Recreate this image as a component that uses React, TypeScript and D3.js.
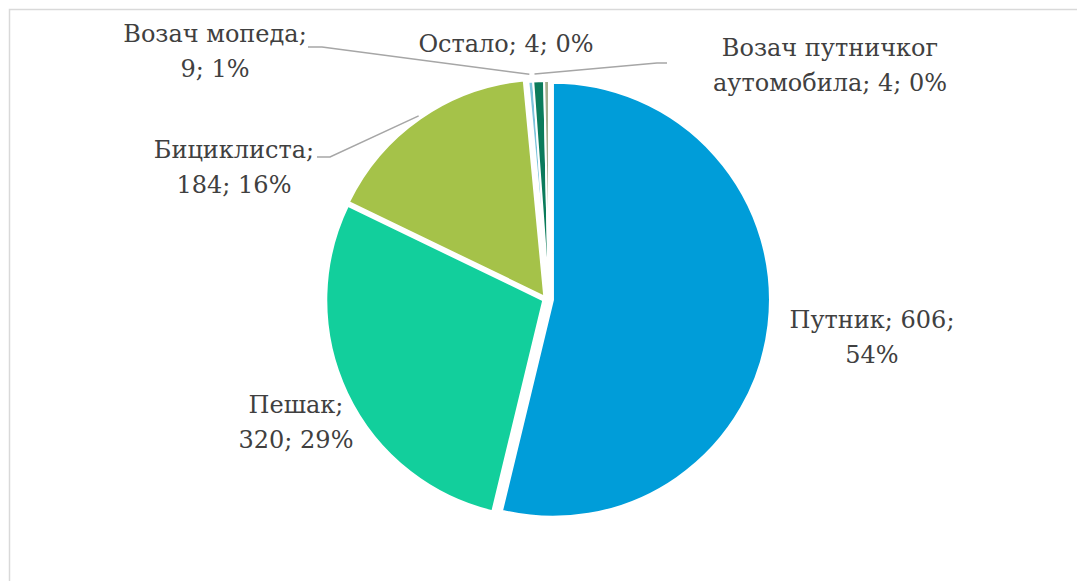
import React from "react";
import * as d3 from "d3";

const categories = ["Путник", "Пешак", "Бициклиста", "Остало", "Возач мопеда", "Возач путничког аутомобила"];
const values = [606, 320, 184, 4, 9, 4];
const percentLabels = ["54%", "29%", "16%", "0%", "1%", "0%"];

const colors = ["#009DD9", "#12CF9C", "#A5C249", "#7CC4DC", "#0B7B5B", "#A3AD8C"];
const explode = [7, 3, 3, 1, 1, 1];

const labelLines: string[][] = [
  [`${categories[0]}; ${values[0]};`, percentLabels[0]],
  [`${categories[1]};`, `${values[1]}; ${percentLabels[1]}`],
  [`${categories[2]};`, `${values[2]}; ${percentLabels[2]}`],
  [`${categories[3]}; ${values[3]}; ${percentLabels[3]}`],
  [`${categories[4]};`, `${values[4]}; ${percentLabels[4]}`],
  ["Возач путничког", `аутомобила; ${values[5]}; ${percentLabels[5]}`],
];
const labelPos = [
  { x: 872, y: 328 },
  { x: 296, y: 413 },
  { x: 234, y: 158 },
  { x: 506, y: 52 },
  { x: 215, y: 42 },
  { x: 830, y: 56 },
];
const leaderStart: ({ x: number; y: number; hx: number } | null)[] = [
  null,
  null,
  { x: 317, y: 157, hx: 330 },
  null,
  { x: 308, y: 47, hx: 322 },
  { x: 667, y: 63, hx: 657 },
];

const W = 1077;
const H = 581;
const cx = 546;
const cy = 299;
const R = 217;

export default function App() {
  const pie = d3
    .pie<number>()
    .sort(null)
    .value((d) => d)
    .startAngle(0)
    .endAngle(2 * Math.PI);
  const arcs = pie(values);
  const arc = d3.arc<d3.PieArcDatum<number>>().innerRadius(0).outerRadius(R);
  const lineH = 35;

  return (
    <svg
      width={W}
      height={H}
      style={{ position: "absolute", left: 0, top: 0, background: "#fff" }}
    >
      <rect x={9.5} y={9.5} width={1200} height={700} fill="#fff" stroke="#d9d9d9" strokeWidth={1.5} />
      <g transform={`translate(${cx},${cy})`}>
        {arcs.map((a, i) => {
          const mid = (a.startAngle + a.endAngle) / 2;
          const dx = Math.sin(mid) * explode[i] + (i >= 3 ? 3 : 0);
          const dy = -Math.cos(mid) * explode[i];
          return (
            <path
              key={i}
              d={arc(a) || ""}
              transform={`translate(${dx},${dy})`}
              fill={colors[i]}
              stroke="#fff"
              strokeWidth={2}
            />
          );
        })}
      </g>
      {arcs.map((a, i) => {
        const s = leaderStart[i];
        if (!s) return null;
        const mid = (a.startAngle + a.endAngle) / 2;
        const rr = i >= 3 ? R + 7 : R + 3;
        const ex = cx + Math.sin(mid) * (rr + explode[i]) - (i >= 3 ? 6 : 0) + (i === 5 ? -3 : 0);
        const ey = cy - Math.cos(mid) * (rr + explode[i]);
        return (
          <polyline
            key={"l" + i}
            points={`${s.x},${s.y} ${s.hx},${s.y} ${ex},${ey}`}
            fill="none"
            stroke="#a6a6a6"
            strokeWidth={1.5}
          />
        );
      })}
      {labelLines.map((lines, i) => (
        <text
          key={"t" + i}
          x={labelPos[i].x}
          y={labelPos[i].y}
          textAnchor="middle"
          fill="#404040"
          fontFamily="DejaVu Serif"
          fontSize={24}
        >
          {lines.map((ln, j) => (
            <tspan key={j} x={labelPos[i].x} dy={j === 0 ? 0 : lineH}>
              {ln}
            </tspan>
          ))}
        </text>
      ))}
    </svg>
  );
}
